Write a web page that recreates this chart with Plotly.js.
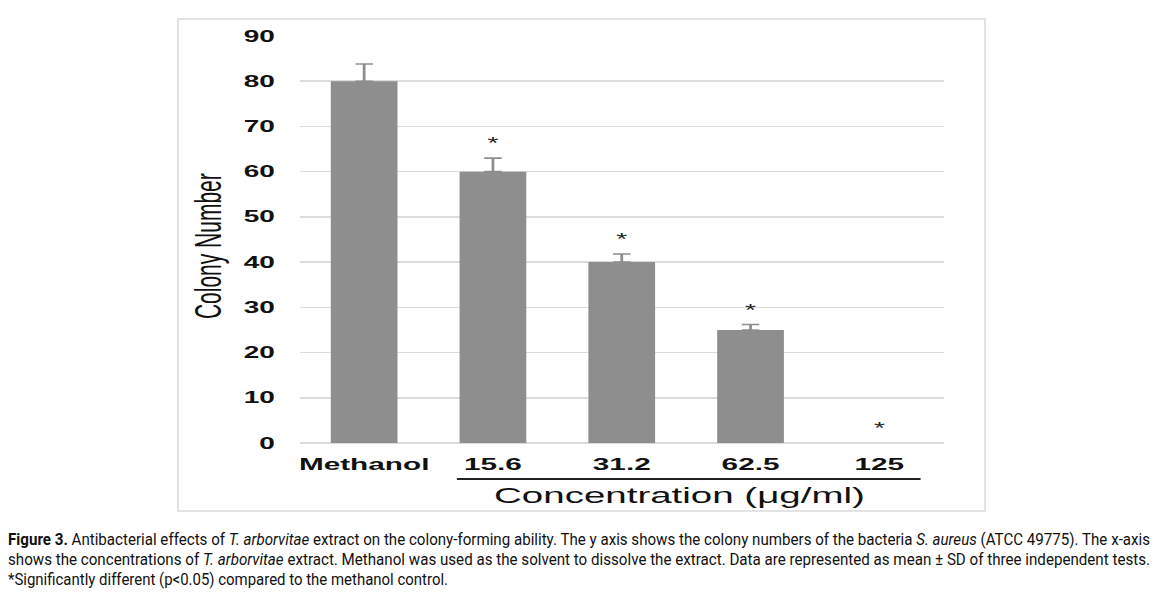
<!DOCTYPE html>
<html><head><meta charset="utf-8">
<script src="https://cdn.plot.ly/plotly-3.0.1.min.js"></script>
<style>
body{margin:0;background:#fff;width:1163px;height:595px;overflow:hidden;position:relative}
#frame{position:absolute;left:177px;top:18px;width:809px;height:494px;box-sizing:border-box;border:2px solid #e3e3e3;overflow:hidden}
#chart{width:460px;height:490px;transform:scaleX(1.75);transform-origin:0 0}
#caption{position:absolute;left:8px;top:529px;font-family:Roboto,"Liberation Sans",sans-serif;font-size:17px;color:#111;line-height:20px}
.line{white-space:nowrap;transform-origin:0 0;width:max-content}
</style></head>
<body>
<div id="frame"><div id="chart"></div></div>
<div id="caption">
<div class="line" data-w="1142"><b>Figure 3.</b> Antibacterial effects of <i>T. arborvitae</i> extract on the colony-forming ability. The y axis shows the colony numbers of the bacteria <i>S. aureus</i> (ATCC 49775). The x-axis</div>
<div class="line" data-w="1142">shows the concentrations of <i>T. arborvitae</i> extract. Methanol was used as the solvent to dissolve the extract. Data are represented as mean ± SD of three independent tests.</div>
<div class="line" data-w="440">*Significantly different (p&lt;0.05) compared to the methanol control.</div>
</div>
<script>
const categories = ['Methanol', '15.6', '31.2', '62.5', '125'];
const colonyMean = [80, 60, 40, 25, 0];
const colonySD = [3.8, 3, 1.8, 1.2, 0];
const significance = ['', '*', '*', '*', '*'];
const yTicks = [0, 10, 20, 30, 40, 50, 60, 70, 80, 90];

const FONT = 'Liberation Sans, Arial, sans-serif';
const starY = colonyMean.map((m, i) => m + colonySD[i] + 2.8);

const bars = {
  type: 'bar', x: categories, y: colonyMean,
  marker: {color: '#8e8e8e', line: {width: 0}},
  error_y: {type: 'data', symmetric: false,
            array: colonySD.map(s => s > 0 ? s : undefined),
            arrayminus: colonySD.map(s => s > 0 ? 0 : undefined),
            color: '#8e8e8e', thickness: 1.6, width: 5},
  hoverinfo: 'skip'
};
const stars = {
  type: 'scatter', mode: 'text', x: categories, y: starY, text: significance,
  textposition: 'middle center', textfont: {family: FONT, size: 16, color: '#222'},
  cliponaxis: false, hoverinfo: 'skip'
};

const layout = {
  width: 460, height: 490,
  margin: {l: 68.6, r: 23.4, t: 16, b: 67},
  paper_bgcolor: '#fff', plot_bgcolor: '#fff',
  showlegend: false, bargap: 0.482,
  font: {family: FONT, color: '#111'},
  xaxis: {type: 'category', showgrid: false, showline: false, zeroline: false,
          ticks: 'outside', ticklen: 6, tickcolor: 'rgba(0,0,0,0)',
          tickfont: {family: FONT, size: 17, color: '#111', weight: 'bold'}},
  yaxis: {range: [0, 90], tickvals: yTicks, showline: false,
          gridcolor: '#dcdcdc', gridwidth: 1.5, zeroline: true, zerolinecolor: '#dcdcdc', zerolinewidth: 1.5,
          ticks: 'outside', ticklen: 10, tickcolor: 'rgba(0,0,0,0)',
          tickfont: {family: FONT, size: 16, color: '#111', weight: 'bold'}},
  shapes: [{type: 'line', xref: 'x', yref: 'paper', x0: 0.72, x1: 4.32, y0: -0.0885, y1: -0.0885,
            line: {color: '#222', width: 2}}],
  annotations: [
    {text: 'Concentration (μg/ml)', xref: 'x', yref: 'paper', x: 2.45, y: -0.128,
     xanchor: 'center', yanchor: 'middle', showarrow: false, font: {family: FONT, size: 22, color: '#111'}},
    {text: 'Colony Number', xref: 'paper', yref: 'paper', x: -0.1438, y: 0.484, textangle: -90,
     xanchor: 'center', yanchor: 'middle', showarrow: false, font: {family: FONT, size: 21, color: '#111'}}
  ]
};

Plotly.newPlot('chart', [bars, stars], layout, {displayModeBar: false, staticPlot: true});

function fitCaption() {
  document.querySelectorAll('.line').forEach(el => {
    el.style.transform = 'none';
    const w = el.getBoundingClientRect().width;
    const target = parseFloat(el.dataset.w);
    el.style.transform = 'scaleX(' + (target / w) + ')';
  });
}
fitCaption();
if (document.fonts && document.fonts.ready) document.fonts.ready.then(fitCaption);
</script>
</body></html>
